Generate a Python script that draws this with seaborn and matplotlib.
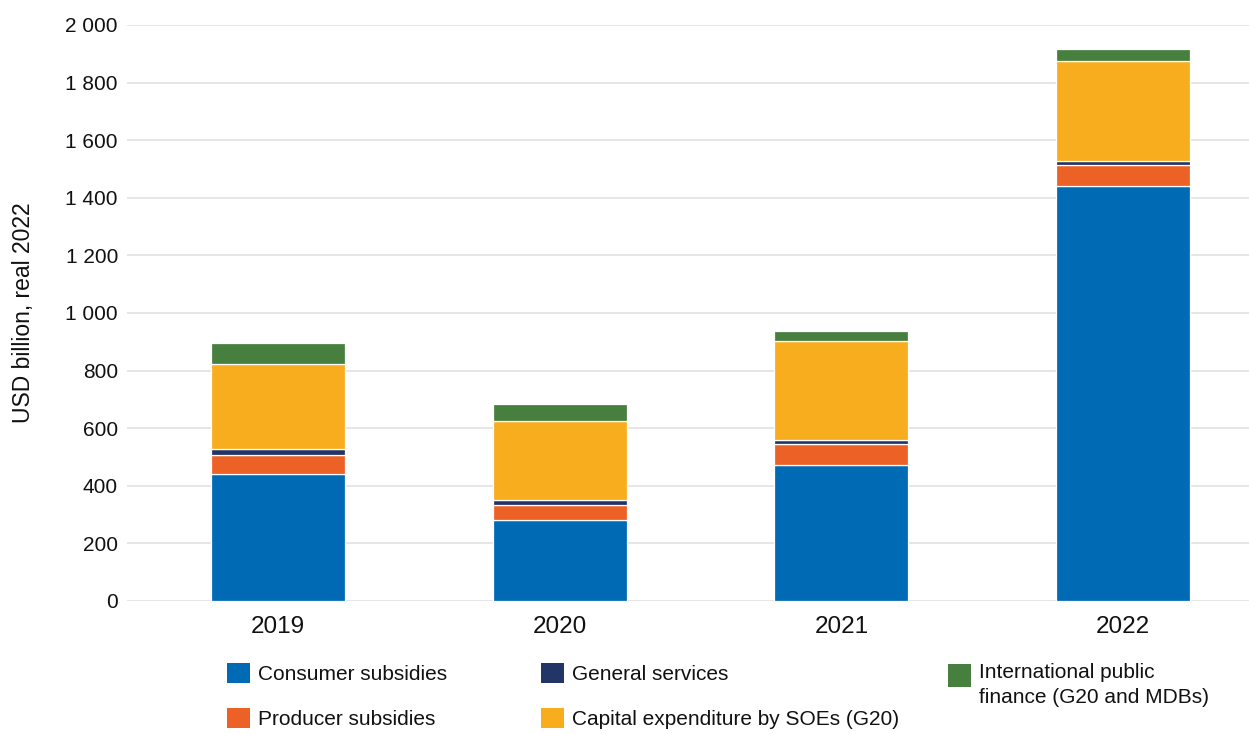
import matplotlib
matplotlib.use('Agg')
import matplotlib.pyplot as plt
import seaborn as sns
import pandas as pd
import numpy as np
from matplotlib.patches import Patch, Rectangle
from matplotlib.legend_handler import HandlerPatch

# ---- data ----
years = ['2019', '2020', '2021', '2022']
consumer = [440, 281, 471, 1442]
producer = [68, 51, 74, 72]
general = [21, 17, 14, 14]
capex = [295, 275, 343, 347]
intl = [72, 61, 34, 41]

series_names = ['Consumer subsidies', 'Producer subsidies', 'General services',
                'Capital expenditure by SOEs (G20)',
                'International public\nfinance (G20 and MDBs)']
colors = ['#006bb4', '#ec6126', '#233467', '#f8ad1f', '#477f3e']

yticks = [0, 200, 400, 600, 800, 1000, 1200, 1400, 1600, 1800, 2000]
ytick_labels = ['0', '200', '400', '600', '800', '1 000', '1 200', '1 400',
                '1 600', '1 800', '2 000']
ylabel = 'USD billion, real 2022'

df = pd.DataFrame({'year': years, 'consumer': consumer, 'producer': producer,
                   'general': general, 'capex': capex, 'intl': intl})
cols = ['consumer', 'producer', 'general', 'capex', 'intl']

# ---- style ----
sns.set_theme(style='white')
plt.rcParams['font.family'] = ['Liberation Sans', 'DejaVu Sans']
plt.rcParams['text.color'] = '#111111'

fig = plt.figure(figsize=(12.49, 7.34), dpi=100)
ax = fig.add_axes([127 / 1249, (734 - 601) / 734, (1249 - 127) / 1249, (601 - 25) / 734])

bottom = np.zeros(len(years))
for col, name, color in zip(cols, series_names, colors):
    sns.barplot(data=df, x='year', y=col, color=color, saturation=1,
                bottom=bottom.copy(), width=0.476, ax=ax,
                edgecolor='white', linewidth=0.9, zorder=3)
    bottom += df[col].values

ax.set_xlim(-0.536, 3.447)
ax.set_ylim(0, 2000)
ax.set_yticks(yticks)
ax.set_yticklabels(ytick_labels)
ax.grid(axis='y', color='#e2e2e2', linewidth=1.2, zorder=0)
ax.grid(axis='x', visible=False)
ax.set_axisbelow(True)
for s in ax.spines.values():
    s.set_visible(False)
ax.tick_params(axis='both', length=0)
ax.tick_params(axis='y', labelsize=15, pad=6.5, labelcolor='#111111')
ax.tick_params(axis='x', labelsize=17.5, pad=10.5, labelcolor='#111111')
ax.set_xlabel('')
ax.set_ylabel(ylabel, fontsize=16.5, color='#111111')
ax.yaxis.set_label_coords(-0.082, 0.5)

# ---- legend ----
handles = [Patch(facecolor=c, edgecolor='none') for c in colors]
fs = 15
common = dict(frameon=False, fontsize=fs, handlelength=1.1, handleheight=1.1,
              handletextpad=0.4, borderpad=0, borderaxespad=0,
              labelspacing=1.15, loc='upper left', bbox_transform=fig.transFigure)

top = 1 - 663 / 734
leg1 = fig.legend([handles[0], handles[1]], [series_names[0], series_names[1]],
                  bbox_to_anchor=(227 / 1249, top), **common)
leg2 = fig.legend([handles[2], handles[3]], [series_names[2], series_names[3]],
                  bbox_to_anchor=(541 / 1249, top), **common)


def top_square(legend, orig_handle, xdescent, ydescent, width, height, fontsize):
    side = 1.1 * fontsize
    return Rectangle((-xdescent, -ydescent + height - side), width, side)


common3 = dict(common)
common3['handleheight'] = 2.9
leg3 = fig.legend([handles[4]], [series_names[4]],
                  bbox_to_anchor=(948 / 1249, 1 - 663 / 734),
                  handler_map={Patch: HandlerPatch(patch_func=top_square)},
                  **common3)
for t in leg3.get_texts():
    t.set_linespacing(1.4)

fig.savefig('out.png', dpi=100)
